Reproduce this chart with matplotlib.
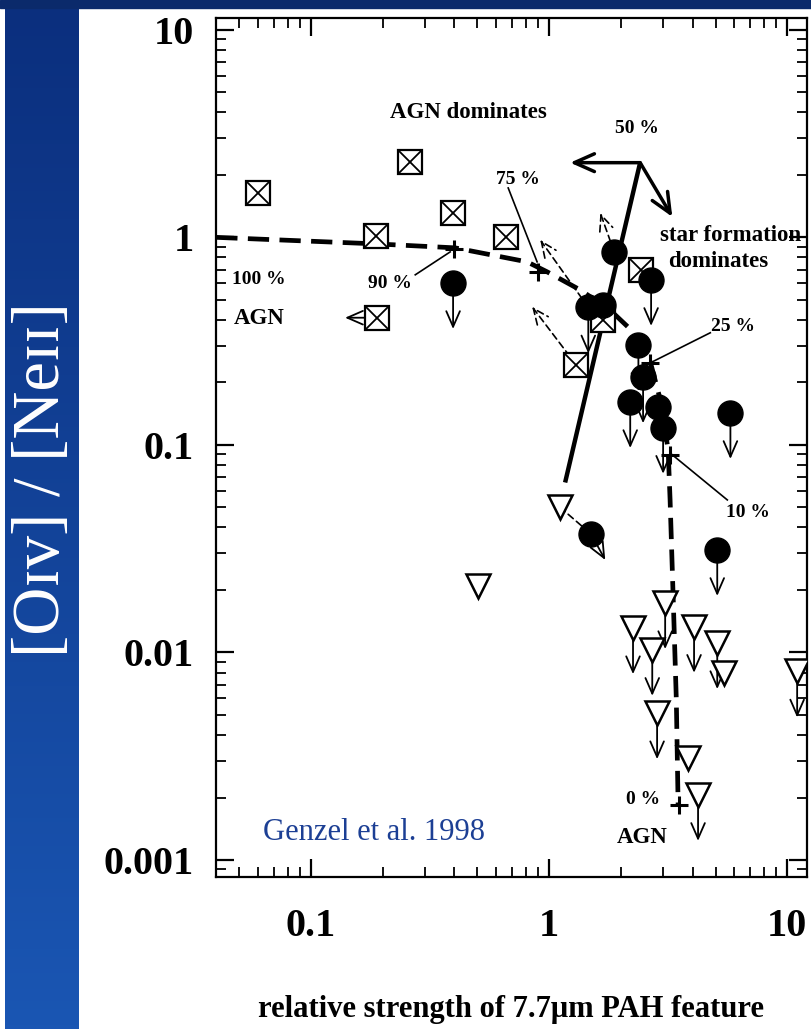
import numpy as np
import matplotlib.pyplot as plt
from matplotlib.patches import Rectangle
from matplotlib.ticker import FixedLocator, FixedFormatter, LogLocator, NullFormatter

SERIF = ['Liberation Serif', 'DejaVu Serif']

# ULIRG sources, crossed squares (detections)
sq_x = [0.060, 0.261, 0.395, 0.188, 0.66, 0.189, 1.30, 1.69, 2.44]
sq_y = [1.64, 2.31, 1.31, 1.02, 1.00, 0.41, 0.243, 0.40, 0.697]

# filled circles, most of them upper limits in [OIV]/[NeII]
circ_x = [0.395, 1.875, 2.68, 1.46, 1.69, 2.37, 2.48, 2.19, 2.87, 3.01, 5.77, 1.50, 5.08]
circ_y = [0.603, 0.851, 0.624, 0.46, 0.473, 0.303, 0.212, 0.161, 0.152, 0.121, 0.1426, 0.0372, 0.0312]
circ_lim = [True, False, True, True, False, True, True, True, False, True, True, False, True]

# open triangles (starbursts), mostly upper limits
tri_x = [1.11, 0.503, 3.07, 2.25, 2.71, 2.84, 4.06, 5.08, 5.43, 11.0, 3.84, 4.22]
tri_y = [0.0501, 0.0209, 0.0173, 0.0131, 0.0103, 0.0051, 0.0133, 0.0111, 0.0080, 0.0081, 0.0031, 0.00206]
tri_lim = [False, False, True, True, True, True, True, True, False, True, False, True]

# AGN / starburst mixing curve
mix_x = [0.04, 0.188, 0.403, 0.808, 0.981, 1.35, 1.80, 2.25, 2.66, 2.93, 3.16, 3.22, 3.32, 3.42, 3.48]
mix_y = [1.0, 0.93, 0.89, 0.762, 0.682, 0.558, 0.447, 0.351, 0.251, 0.165, 0.0946, 0.0543, 0.0179, 0.0059, 0.00184]
frac_x = [0.40, 0.90, 2.65, 3.22, 3.51]
frac_y = [0.88, 0.68, 0.248, 0.0895, 0.00184]

# 50% division line and its two direction arrows
div_x = [1.167, 2.41]
div_y = [0.0659, 2.29]
agn_arrow_x = 1.225
sf_arrow = (3.29, 1.255)

x_ticks = [0.1, 1, 10]
x_labels = ['0.1', '1', '10']
y_ticks = [0.001, 0.01, 0.1, 1, 10]
y_labels = ['0.001', '0.01', '0.1', '1', '10']

W, H = 812, 1029
fig = plt.figure(figsize=(W / 100, H / 100), dpi=100)
fig.patch.set_facecolor('white')

# slide decoration: navy strip on top, blue gradient bar on the left
fig.patches.append(Rectangle((0, 1 - 8 / H), 1, 8 / H, transform=fig.transFigure,
                             color='#0b2a6b', zorder=0))
bar = fig.add_axes([5 / W, 0, 74 / W, 1 - 8 / H])
grad = np.linspace(0, 1, 256).reshape(-1, 1)
top_c = np.array([11, 47, 126]) / 255
bot_c = np.array([26, 86, 179]) / 255
img = top_c[None, None, :] * (1 - grad[:, :, None]) + bot_c[None, None, :] * grad[:, :, None]
bar.imshow(img, aspect='auto', extent=[0, 1, 0, 1], origin='upper')
bar.set_axis_off()
fig.text(43 / W, 1 - 480 / H, '[Oɪᴠ] / [Neɪɪ]', rotation=90, color='white',
         fontsize=48, family=SERIF, ha='center', va='center')

ax = fig.add_axes([216 / W, (H - 877) / H, (807 - 216) / W, (877 - 18) / H])
ax.set_xscale('log')
ax.set_yscale('log')
ax.set_xlim(0.0399, 12.1)
ax.set_ylim(0.000828, 11.4)


def upper_limit(x, y, factor=0.6):
    ax.annotate('', xy=(x, y * factor), xytext=(x, y), zorder=2,
                arrowprops=dict(arrowstyle='->, head_length=0.8, head_width=0.35',
                                lw=1.3, color='black', shrinkA=0, shrinkB=0,
                                mutation_scale=14))


def dashed_arrow(start, end, head=True):
    style = '->, head_length=0.8, head_width=0.35' if head else '-'
    ax.annotate('', xy=end, xytext=start, zorder=2,
                arrowprops=dict(arrowstyle=style, lw=1.2, ls=(0, (4, 2.5)), color='black',
                                shrinkA=0, shrinkB=0, mutation_scale=14))


def pointer(start, end):
    ax.plot([start[0], end[0]], [start[1], end[1]], color='black', lw=1.2, zorder=2)


# mixing curve
ax.plot(mix_x, mix_y, color='black', lw=3.4, dashes=(4.5, 2.2), zorder=3)
ax.plot(frac_x, frac_y, '+', color='black', ms=13, mew=2.2, zorder=3)

# 50% line with arrows
ax.plot(div_x, div_y, color='black', lw=3.2, solid_capstyle='butt', zorder=3)
ax.annotate('', xy=(agn_arrow_x, div_y[1]), xytext=(div_x[1], div_y[1]), zorder=3,
            arrowprops=dict(arrowstyle='->, head_length=0.9, head_width=0.4', lw=2.5,
                            color='black', shrinkA=0, shrinkB=0, mutation_scale=16))
ax.annotate('', xy=sf_arrow, xytext=(div_x[1], div_y[1]), zorder=3,
            arrowprops=dict(arrowstyle='->, head_length=0.9, head_width=0.4', lw=2.5,
                            color='black', shrinkA=0, shrinkB=0, mutation_scale=16))

# limits
for x, y, lim in zip(circ_x, circ_y, circ_lim):
    if lim:
        upper_limit(x, y)
for x, y, lim in zip(tri_x, tri_y, tri_lim):
    if lim:
        upper_limit(x, y)

# links between related measurements
dashed_arrow((sq_x[6], sq_y[6]), (0.848, 0.463))
dashed_arrow((circ_x[3], circ_y[3]), (0.917, 0.973))
dashed_arrow((circ_x[1], circ_y[1]), (1.64, 1.31))
dashed_arrow((tri_x[0], tri_y[0]), (circ_x[11], circ_y[11]), head=False)
ax.annotate('', xy=(1.72, 0.0279), xytext=(circ_x[11], circ_y[11]), zorder=2,
            arrowprops=dict(arrowstyle='->, head_length=0.8, head_width=0.35', lw=1.3,
                            color='black', shrinkA=0, shrinkB=0, mutation_scale=14))
ax.annotate('', xy=(0.139, sq_y[5]), xytext=(sq_x[5], sq_y[5]), zorder=2,
            arrowprops=dict(arrowstyle='->, head_length=0.8, head_width=0.35', lw=1.3,
                            color='black', shrinkA=0, shrinkB=0, mutation_scale=14))

# markers
ax.plot(tri_x, tri_y, 'v', ms=17, mfc='white', mec='black', mew=1.8, ls='none', zorder=4)
ax.plot(sq_x, sq_y, 's', ms=17.5, mfc='white', mec='black', mew=1.6, ls='none', zorder=4)
ax.plot(sq_x, sq_y, 'x', ms=17.5, mec='black', mew=1.3, ls='none', zorder=5)
ax.plot(circ_x, circ_y, 'o', ms=18, mfc='black', mec='black', ls='none', zorder=6)

# label pointers
pointer((0.673, 1.73), (0.89, 0.762))
pointer((0.274, 0.66), (0.384, 0.851))
pointer((4.75, 0.347), (2.65, 0.248))
pointer((3.22, 0.0914), (5.6, 0.0543))

pct = dict(fontsize=14, fontweight='bold', family=SERIF, color='black', zorder=7)
word = dict(pct, fontsize=16.5)
ax.text(0.457, 3.98, 'AGN dominates', ha='center', va='center', **word)
ax.text(2.34, 3.33, '50 %', ha='center', va='center', **pct)
ax.text(0.741, 1.91, '75 %', ha='center', va='center', **pct)
ax.text(2.93, 1.016, 'star formation', ha='left', va='center', **word)
ax.text(3.16, 0.762, 'dominates', ha='left', va='center', **word)
ax.text(0.0466, 0.624, '100 %', ha='left', va='center', **pct)
ax.text(0.0475, 0.405, 'AGN', ha='left', va='center', **word)
ax.text(0.215, 0.597, '90 %', ha='center', va='center', **pct)
ax.text(5.93, 0.37, '25 %', ha='center', va='center', **pct)
ax.text(6.86, 0.047, '10 %', ha='center', va='center', **pct)
ax.text(2.48, 0.00195, '0 %', ha='center', va='center', **pct)
ax.text(2.46, 0.00129, 'AGN', ha='center', va='center', **word)
ax.text(0.0628, 0.00135, 'Genzel et al. 1998', ha='left', va='center',
        fontsize=22, family=SERIF, color='#1c3f94', zorder=7)

# axes styling
ax.xaxis.set_major_locator(FixedLocator(x_ticks))
ax.xaxis.set_major_formatter(FixedFormatter(x_labels))
ax.yaxis.set_major_locator(FixedLocator(y_ticks))
ax.yaxis.set_major_formatter(FixedFormatter(y_labels))
for axis in (ax.xaxis, ax.yaxis):
    axis.set_minor_locator(LogLocator(base=10, subs=np.arange(2, 10), numticks=20))
    axis.set_minor_formatter(NullFormatter())
ax.tick_params(which='both', direction='in', top=True, right=True)
ax.tick_params(which='major', length=13, width=1.6)
ax.tick_params(which='minor', length=7, width=1.3)
ax.tick_params(axis='x', which='major', pad=22)
ax.tick_params(axis='y', which='major', pad=16)
for lbl in ax.get_xticklabels() + ax.get_yticklabels():
    lbl.set_fontfamily(SERIF)
    lbl.set_fontweight('bold')
    lbl.set_fontsize(29)
for sp in ax.spines.values():
    sp.set_linewidth(1.6)

fig.text((216 + 807) / 2 / W, 1 - 1010 / H, 'relative strength of 7.7μm PAH feature',
         ha='center', va='center', fontsize=22, fontweight='bold', family=SERIF)

fig.savefig('out.png', dpi=100)
